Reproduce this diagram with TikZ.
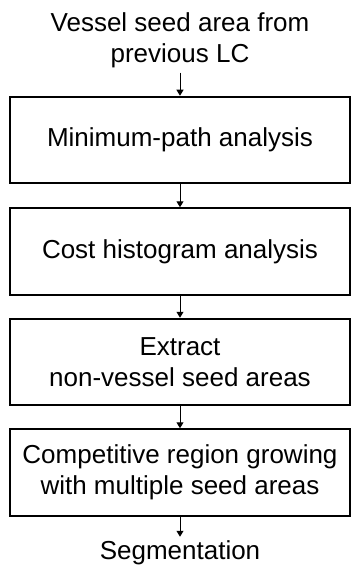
\documentclass[tikz,border=0pt]{standalone}
\usepackage{fontspec}
\setmainfont{Liberation Sans}
\usepackage{tikz}
\usetikzlibrary{positioning}
\usetikzlibrary{arrows.meta}

\begin{document}
\begin{tikzpicture}[x=1pt, y=1pt, font=\fontsize{13}{15.5}\selectfont,
    stage/.style={draw, line width=1pt, minimum width=170pt, minimum height=43.25pt, align=center, inner sep=0pt},
    terminal/.style={align=center, inner sep=2pt},
    flow/.style={line width=0.5pt, -{Triangle[length=3pt, width=3.5pt]}}]
    \useasboundingbox (0,0) rectangle (175.5,-283.5);

    \node[stage] (mp) at (90,-70) {Minimum-path analysis};
    \node[stage, below=11.5pt of mp] (ch) {Cost histogram analysis};
    \node[stage, below=11pt of ch] (ex) {Extract\\non-vessel seed areas};
    \node[stage, below=11pt of ex] (cr) {Competitive region growing\\with multiple seed areas};

    \node[terminal, above=11.5pt of mp] (seed) {Vessel seed area from\\previous LC};
    \node[terminal, below=10pt of cr] (seg) {Segmentation};

    \draw[flow] (seed) -- (mp);
    \draw[flow] (mp) -- (ch);
    \draw[flow] (ch) -- (ex);
    \draw[flow] (ex) -- (cr);
    \draw[flow] (cr) -- (seg);
\end{tikzpicture}
\end{document}
